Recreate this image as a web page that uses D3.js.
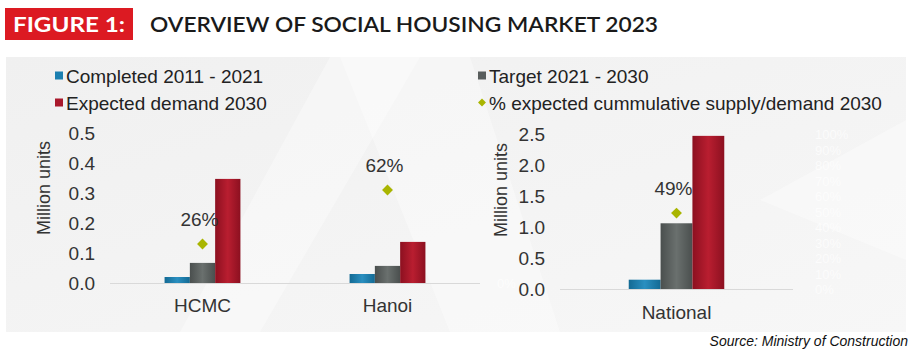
<!DOCTYPE html>
<html lang="en">
  <head>
    <meta charset="UTF-8" />
    <title>Overview of social housing market 2023</title>
    <script src="https://cdn.jsdelivr.net/npm/d3@7"></script>
    <style>
      body { margin:0; background:#fff; }
      svg { display:block; font-family:"Liberation Sans", Arial, sans-serif; }
    </style>
  </head>
  <body>
    <svg width="918" height="351"></svg>
    <script>
      // data
      const series = ["Completed 2011 - 2021", "Target 2021 - 2030", "Expected demand 2030"];
      const cityCats = ["HCMC", "Hanoi"];
      const completedCity = [0.02, 0.03];
      const targetCity = [0.067, 0.057];
      const demandCity = [0.347, 0.137];
      const pctCity = [0.26, 0.62];
      const nationalCats = ["National"];
      const completedNat = [0.15];
      const targetNat = [1.06];
      const demandNat = [2.47];
      const pctNat = [0.49];
      const cityTicks = [0, 0.1, 0.2, 0.3, 0.4, 0.5];
      const natTicks = [0, 0.5, 1.0, 1.5, 2.0, 2.5];
      const pctTicks = [0, 0.1, 0.2, 0.3, 0.4, 0.5, 0.6, 0.7, 0.8, 0.9, 1];

      const colors = ["#1b7fb0", "#585d5c", "#a9182b"];
      const diamondColor = "#a9b500";

      const svg = d3.select("svg");
      const defs = svg.append("defs");

      // bar gradients - a bit darker on the edges like the original
      const grads = [["#136a94", "#2a8fc0"], ["#4a4f4e", "#6a706e"], ["#8c1020", "#b91e30"]];
      grads.forEach((g, i) => {
        const lg = defs.append("linearGradient").attr("id", "g" + i)
          .attr("x1", 0).attr("x2", 1).attr("y1", 0).attr("y2", 0);
        lg.append("stop").attr("offset", "0%").attr("stop-color", g[0]);
        lg.append("stop").attr("offset", "50%").attr("stop-color", g[1]);
        lg.append("stop").attr("offset", "100%").attr("stop-color", g[0]);
      });
      const bg = defs.append("linearGradient").attr("id", "bg")
        .attr("x1", 0).attr("x2", 1).attr("y1", 0).attr("y2", 1);
      bg.append("stop").attr("offset", "0%").attr("stop-color", "#f0f0f0");
      bg.append("stop").attr("offset", "100%").attr("stop-color", "#f7f7f7");

      // header
      svg.append("rect").attr("x", 5).attr("y", 8).attr("width", 128).attr("height", 32).attr("fill", "#dc1a22");
      svg.append("text").attr("x", 69).attr("y", 31.5).attr("text-anchor", "middle")
        .attr("fill", "#fff").style("font-family", "Lato, sans-serif").style("font-weight", 700)
        .style("font-size", "21px").attr("textLength", 112).attr("lengthAdjust", "spacingAndGlyphs")
        .text("FIGURE 1:");
      svg.append("text").attr("x", 150).attr("y", 31.5)
        .attr("fill", "#1a1a1a").style("font-family", "Lato, sans-serif").style("font-weight", 600)
        .style("font-size", "21px").attr("textLength", 508).attr("lengthAdjust", "spacingAndGlyphs")
        .text("OVERVIEW OF SOCIAL HOUSING MARKET 2023");

      // panel
      svg.append("rect").attr("x", 6).attr("y", 57).attr("width", 900).attr("height", 275).attr("fill", "url(#bg)");
      const shapes = [
        [[180, 332], [330, 57], [420, 57], [260, 332]],
        [[340, 57], [470, 57], [560, 332], [450, 332]],
        [[760, 200], [906, 120], [906, 260]]
      ];
      svg.append("g").selectAll("path").data(shapes).join("path")
        .attr("d", d => d3.line()(d) + "Z")
        .attr("fill", "#fff").attr("opacity", 0.35);

      // legend
      const legend = svg.append("g").style("font-size", "19px").attr("fill", "#222");
      const legItems = [
        {x: 55, y: 76, label: series[0], c: colors[0], sym: "sq"},
        {x: 478, y: 76, label: series[1], c: colors[1], sym: "sq"},
        {x: 55, y: 103, label: series[2], c: colors[2], sym: "sq"},
        {x: 478, y: 103, label: "% expected cummulative supply/demand 2030", c: diamondColor, sym: "dia"}
      ];
      legItems.forEach(d => {
        if (d.sym === "sq") {
          legend.append("rect").attr("x", d.x).attr("y", d.y - 4.5).attr("width", 8).attr("height", 8).attr("fill", d.c);
        } else {
          legend.append("path").attr("d", d3.symbol(d3.symbolDiamond2, 40)())
            .attr("transform", `translate(${d.x + 4},${d.y - 0.5})`).attr("fill", d.c);
        }
        legend.append("text").attr("x", d.x + 11).attr("y", d.y + 7).text(d.label);
      });

      function drawChart(opt) {
        const g = svg.append("g");
        const x = d3.scaleBand().domain(opt.cats).range([opt.x0, opt.x1]);
        const y = d3.scaleLinear().domain([0, opt.max]).range([opt.y0, opt.y1]);
        const yp = d3.scaleLinear().domain([0, 1]).range([opt.y0, opt.y1]);
        const groupW = x.bandwidth() * 0.41;
        const xs = d3.scaleBand().domain(series).range([0, groupW]);

        // faint white secondary axis (barely visible in the original)
        g.append("g").attr("transform", `translate(${opt.pctX},0)`)
          .selectAll("text").data(opt.pctTicks).join("text")
          .attr("y", d => yp(d) + 5).attr("fill", "#fff").attr("opacity", 0.7)
          .style("font-size", "13px").text(d => Math.round(d * 100) + "%");

        // baseline
        g.append("line").attr("x1", opt.x0).attr("x2", opt.x1)
          .attr("y1", opt.y0 + 0.5).attr("y2", opt.y0 + 0.5).attr("stroke", "#d9d9d9");

        // y axis
        const yAxis = d3.axisLeft(y).tickValues(opt.ticks).tickFormat(d3.format(".1f")).tickSize(0).tickPadding(0);
        const ag = g.append("g").attr("transform", `translate(${opt.axisX},0)`).call(yAxis);
        ag.select(".domain").remove();
        ag.selectAll("text").style("font-size", "19px").attr("fill", "#333").style("font-family", "Liberation Sans, Arial, sans-serif");

        g.append("text").attr("transform", `translate(${opt.titleX},${opt.titleY}) rotate(-90)`)
          .attr("text-anchor", "middle").style("font-size", "18px").attr("fill", "#333").text("Million units");

        // x labels
        g.selectAll(".cat").data(opt.cats).join("text")
          .attr("x", d => x(d) + x.bandwidth() / 2).attr("y", opt.y0 + opt.catDy)
          .attr("text-anchor", "middle").style("font-size", "19px").attr("fill", "#333").text(d => d);

        // bars
        const vals = [opt.completed, opt.target, opt.demand];
        opt.cats.forEach((c, ci) => {
          const left = x(c) + (x.bandwidth() - groupW) / 2;
          series.forEach((s, si) => {
            const v = vals[si][ci];
            g.append("rect").attr("x", left + xs(s)).attr("y", y(v))
              .attr("width", xs.bandwidth()).attr("height", y(0) - y(v))
              .attr("fill", `url(#g${si})`);
          });
          const cx = x(c) + x.bandwidth() / 2;
          g.append("path").attr("d", d3.symbol(d3.symbolDiamond2, 75)())
            .attr("transform", `translate(${cx},${yp(opt.pct[ci])})`).attr("fill", diamondColor);
          g.append("text").attr("x", cx - 3).attr("y", yp(opt.pct[ci]) - 18)
            .attr("text-anchor", "middle").style("font-size", "19px").attr("fill", "#333")
            .text(Math.round(opt.pct[ci] * 100) + "%");
        });
      }

      drawChart({cats: cityCats, completed: completedCity, target: targetCity, demand: demandCity, pct: pctCity,
        max: 0.5, ticks: cityTicks, x0: 110, x1: 480, y0: 283, y1: 133, axisX: 95, titleX: 50, titleY: 188,
        catDy: 29, pctX: 497, pctTicks: [0]});
      drawChart({cats: nationalCats, completed: completedNat, target: targetNat, demand: demandNat, pct: pctNat,
        max: 2.5, ticks: natTicks, x0: 560, x1: 793, y0: 289, y1: 134, axisX: 545, titleX: 507, titleY: 190,
        catDy: 30, pctX: 815, pctTicks: pctTicks});

      // source
      svg.append("text").attr("x", 908).attr("y", 346).attr("text-anchor", "end")
        .style("font-size", "14px").style("font-style", "italic").attr("fill", "#111")
        .text("Source: Ministry of Construction");
    </script>
  </body>
</html>
